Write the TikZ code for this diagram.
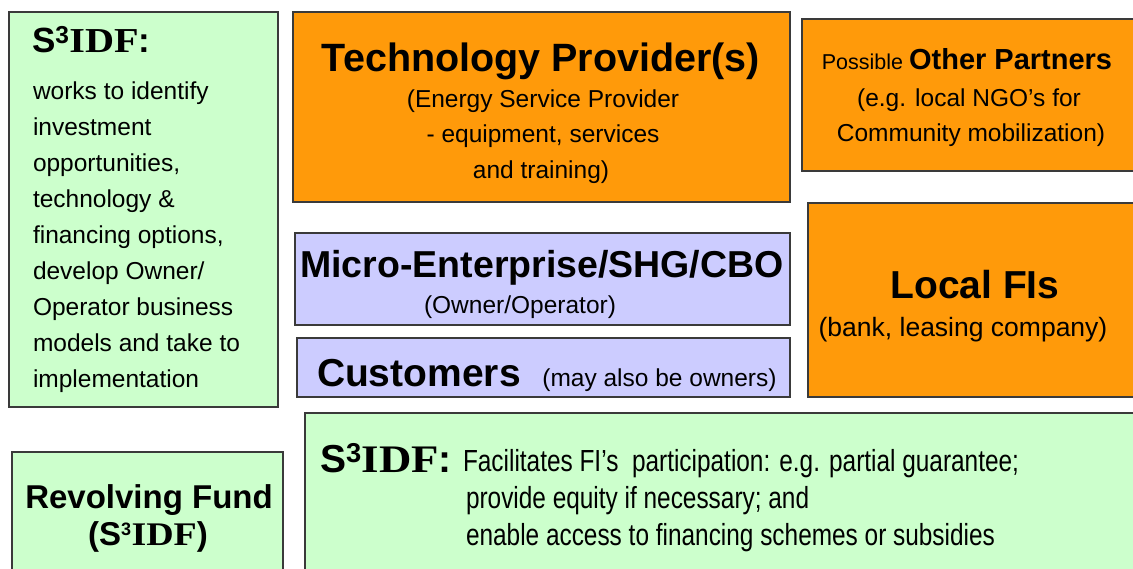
\documentclass[tikz,border=0pt]{standalone}
\usepackage{fontspec}
\setmainfont{Liberation Sans}
\newfontfamily\idffont[FakeStretch=1.15]{Liberation Serif}
\newfontfamily\narrowfont[FakeStretch=0.8]{Liberation Sans}
\definecolor{boxgreen}{HTML}{CCFFCC}
\definecolor{boxorange}{HTML}{FF9A0A}
\definecolor{boxpurple}{HTML}{CCCCFF}
\definecolor{edgegray}{HTML}{3A3A3A}
% S^3IDF logotype: sans S, wide serif IDF
\newcommand\sidf{S\textsuperscript{3}{\idffont IDF}}
\newcommand\fs[1]{\fontsize{#1}{#1}\selectfont}
\begin{document}
\begin{tikzpicture}[x=1pt,y=-1pt,
  box/.style={draw=edgegray, line width=1.2pt, inner sep=0pt, outer sep=0pt, anchor=north west},
  txt/.style={inner sep=0pt, outer sep=0pt, anchor=base},
  txtl/.style={inner sep=0pt, outer sep=0pt, anchor=base west}]
\useasboundingbox[fill=white] (0,0) rectangle (1133,569);

% boxes
\node[box, fill=boxgreen,  minimum width=269pt, minimum height=395pt] (leftbox) at (9,12) {};
\node[box, fill=boxorange, minimum width=497pt, minimum height=190pt] (tech) at (293,12) {};
\node[box, fill=boxorange, minimum width=340pt, minimum height=152pt] (partners) at (802,19) {};
\node[box, fill=boxpurple, minimum width=495pt, minimum height=92pt] (micro) at (295,233) {};
\node[box, fill=boxpurple, minimum width=493pt, minimum height=59pt] (cust) at (297,338) {};
\node[box, fill=boxorange, minimum width=340pt, minimum height=194pt] (fis) at (808,203) {};
\node[box, fill=boxgreen,  minimum width=840pt, minimum height=170pt] (facil) at (305,413) {};
\node[box, fill=boxgreen,  minimum width=271pt, minimum height=130pt] (fund) at (12,452) {};

% left S3IDF box
\node[txtl, font=\fs{35}\bfseries] (lh) at (32,53) {\sidf:};
\foreach \t [count=\i] in {works to identify, investment, {opportunities,}, technology \&,
  {financing options,}, develop Owner/, Operator business, models and take to, implementation}
  \node[txtl, font=\fs{24.5}] (l\i) at (33,{100+36*(\i-1)}) {\t};

% technology provider
\node[txt, font=\fs{39.5}\bfseries] (th) at (541,72) {Technology Provider(s)};
\node[txt, font=\fs{24.5}] (t1) at (543,108) {(Energy Service Provider};
\node[txt, font=\fs{24.5}] (t2) at (543,143) {- equipment, services};
\node[txt, font=\fs{24.5}] (t3) at (541,179) {and training)};

% other partners
\node[txt] (ph) at (967,70) {\fs{21.5}Possible \fs{29}\bfseries Other Partners};
\node[txt, font=\fs{24.5}] (p1) at (969,107) {(e.g. local NGO’s for};
\node[txt, font=\fs{24.5}] (p2) at (971,142) {Community mobilization)};

% local FIs
\node[txt, font=\fs{39}\bfseries] (fh) at (975,299) {Local FIs};
\node[txt, font=\fs{26.5}] (f1) at (963,337) {(bank, leasing company)};

% micro-enterprise
\node[txt, font=\fs{37.5}\bfseries] (mh) at (542,278) {Micro-Enterprise/SHG/CBO};
\node[txt, font=\fs{24.5}] (m1) at (520,314) {(Owner/Operator)};

% customers
\node[txtl] (ch) at (317,386) {\fs{39}\bfseries Customers\ \ \mdseries\fs{24.5}(may also be owners)};

% facilitation box
\node[txtl, font=\fs{39}\bfseries] (bh) at (320,472) {\sidf:};
\node[txtl, font=\fs{30.5}\narrowfont] (b1) at (463,471) {Facilitates FI’s\ \ participation: e.g. partial guarantee;};
\node[txtl, font=\fs{30.5}\narrowfont] (b2) at (466,508) {provide equity if necessary; and};
\node[txtl, font=\fs{30.5}\narrowfont] (b3) at (466,545) {enable access to financing schemes or subsidies};

% revolving fund
\node[txt, font=\fs{33}\bfseries] (rh) at (149,508) {Revolving Fund};
\node[txt, font=\fs{33}\bfseries] (r1) at (148,545) {(S\textsuperscript{\fs{18}3}{\idffont IDF})};
\end{tikzpicture}
\end{document}
